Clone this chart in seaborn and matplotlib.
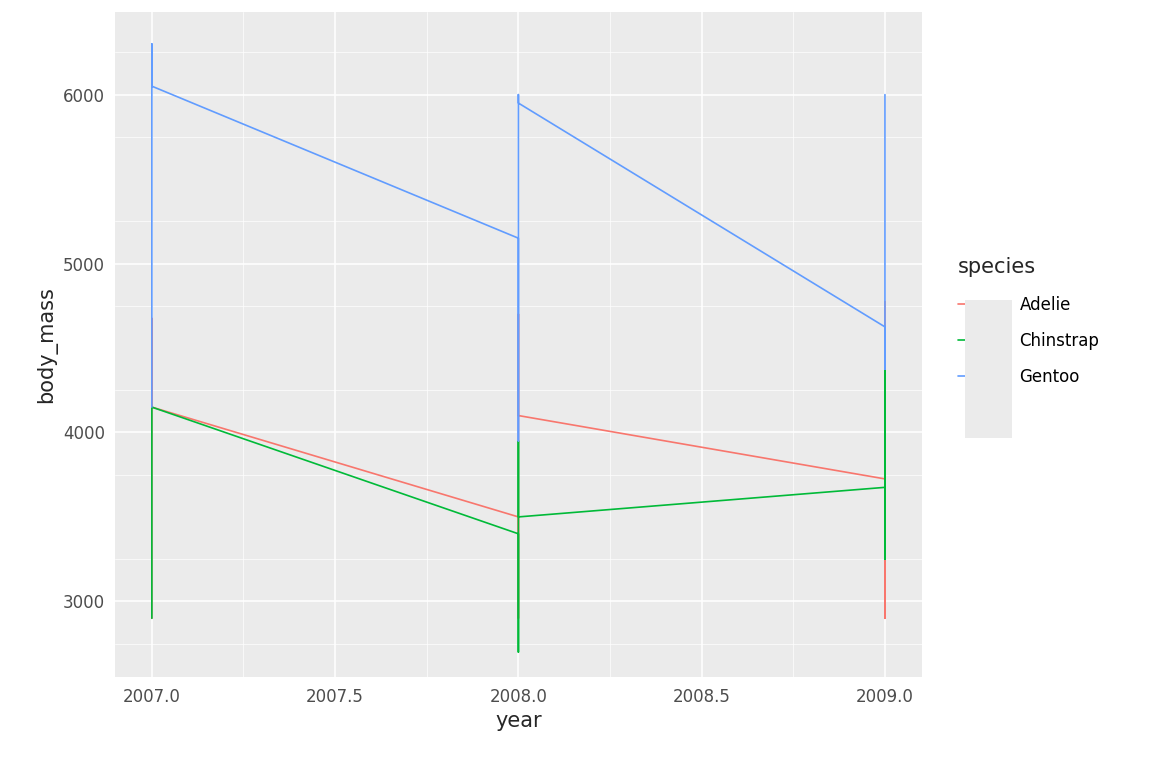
import numpy as np
import pandas as pd
import matplotlib
matplotlib.use('Agg')
import matplotlib.pyplot as plt
import seaborn as sns

# values in drawing order (ggplot geom_line joins points sorted by year)
species = ['Adelie', 'Chinstrap', 'Gentoo']
adelie_2007 = [2900, 4675, 4150]
adelie_2008 = [3500, 2900, 4700, 4100]
adelie_2009 = [3725, 2900, 4775]
chinstrap_2007 = [2900, 4150]
chinstrap_2008 = [3400, 2700, 3950, 3500]
chinstrap_2009 = [3675, 3250, 4375, 3675]
gentoo_2007 = [4150, 6300, 6050]
gentoo_2008 = [5150, 3950, 6000, 5950]
gentoo_2009 = [4625, 4375, 6000]

series = {
    'Adelie': [adelie_2007, adelie_2008, adelie_2009],
    'Chinstrap': [chinstrap_2007, chinstrap_2008, chinstrap_2009],
    'Gentoo': [gentoo_2007, gentoo_2008, gentoo_2009],
}
years = [2007, 2008, 2009]
rows = []
for sp in species:
    for yr, vals in zip(years, series[sp]):
        for v in vals:
            rows.append({'species': sp, 'year': yr, 'body_mass': v})
df = pd.DataFrame(rows)

palette = {'Adelie': '#F8766D', 'Chinstrap': '#00BA38', 'Gentoo': '#619CFF'}

sns.set_style('darkgrid', {'axes.facecolor': '#EBEBEB', 'grid.color': 'white'})
fig = plt.figure(figsize=(11.52, 7.68), dpi=100)
ax = fig.add_axes([0.1, 0.118, 0.7, 0.867])
sns.lineplot(data=df, x='year', y='body_mass', hue='species', palette=palette,
             estimator=None, sort=False, units='species', lw=1.2, ax=ax)

ax.set_xlim(2006.9, 2009.1)
ax.set_ylim(2550, 6492)
ax.set_xticks([2007.0, 2007.5, 2008.0, 2008.5, 2009.0])
ax.set_xticklabels(['2007.0', '2007.5', '2008.0', '2008.5', '2009.0'])
ax.set_yticks([3000, 4000, 5000, 6000])
ax.set_xticks([2007.25, 2007.75, 2008.25, 2008.75], minor=True)
ax.set_yticks([2750, 3250, 3750, 4250, 4750, 5250, 5750, 6250], minor=True)
ax.grid(which='major', color='white', lw=1.1)
ax.grid(which='minor', color='white', lw=0.5)
ax.tick_params(which='minor', length=0)
ax.tick_params(which='major', length=4, color='#333333', labelsize=12, labelcolor='#4D4D4D')
for s in ax.spines.values():
    s.set_visible(False)
ax.set_xlabel('year', fontsize=15)
ax.set_ylabel('body_mass', fontsize=15)

# grey key background as in ggplot legends
fig.patches.append(plt.Rectangle((965 / 1152, 1 - 438 / 768), 47 / 1152, 138 / 768,
                                 transform=fig.transFigure, facecolor='#EBEBEB',
                                 edgecolor='none', zorder=0))
leg = ax.legend(title='species', loc='upper left', bbox_to_anchor=(0.8315, 0.665),
                bbox_transform=fig.transFigure, frameon=False, fontsize=12,
                title_fontsize=15, handlelength=2.8, labelspacing=1.1,
                borderaxespad=0, borderpad=0, handletextpad=0.9)
leg._legend_box.align = 'left'
for t in leg.get_texts():
    t.set_color('black')

fig.savefig('out.png', dpi=100, facecolor='white')
